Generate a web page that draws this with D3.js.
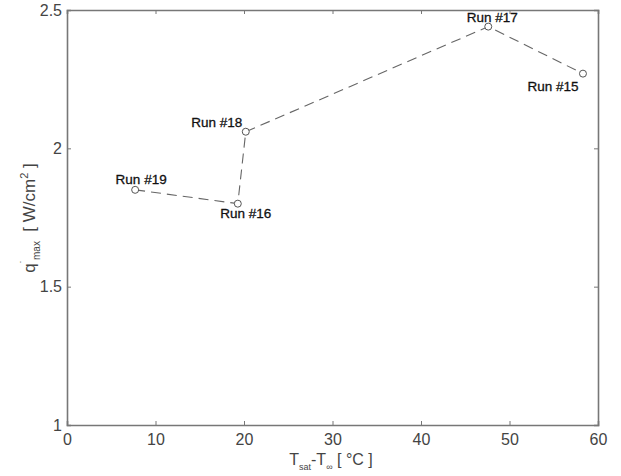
<!DOCTYPE html>
<html><head><meta charset="utf-8">
<script src="https://cdn.jsdelivr.net/npm/d3@7"></script>
<style>body{margin:0;background:#fff;} text{font-family:"Liberation Sans",Arial,sans-serif;}</style>
</head><body>
<svg id="c" width="621" height="476"></svg>
<script>
const runs = ["Run #19","Run #16","Run #18","Run #17","Run #15"];
const dT = [7.7, 19.3, 20.2, 47.6, 58.3];
const qmax = [1.85, 1.80, 2.06, 2.44, 2.27];
const xTicks = [0,10,20,30,40,50,60];
const yTicks = [1,1.5,2,2.5];
const labelOffsets = [[6,-6],[8,14],[-29,-5],[4,-5],[-30,17]];

const svg = d3.select("#c");
const m = {l:67, r:23, t:10, b:51};
const W = 621 - m.l - m.r, H = 476 - m.t - m.b;
const x = d3.scaleLinear().domain([0,60]).range([m.l, m.l+W]);
const y = d3.scaleLinear().domain([1,2.5]).range([m.t+H, m.t]);
const axCol = "#777";

const gx = svg.append("g").attr("transform",`translate(0,${m.t+H})`)
  .call(d3.axisBottom(x).tickValues(xTicks).tickSize(-4).tickPadding(9).tickFormat(d3.format("d")));
const gxt = svg.append("g").attr("transform",`translate(0,${m.t})`)
  .call(d3.axisTop(x).tickValues(xTicks).tickSize(-4).tickFormat(""));
const gy = svg.append("g").attr("transform",`translate(${m.l},0)`)
  .call(d3.axisLeft(y).tickValues(yTicks).tickSize(-4).tickPadding(5).tickFormat(d => d===1||d===2 ? d3.format("d")(d) : d3.format(".1f")(d)));
const gyr = svg.append("g").attr("transform",`translate(${m.l+W},0)`)
  .call(d3.axisRight(y).tickValues(yTicks).tickSize(-4).tickFormat(""));
[gx,gxt,gy,gyr].forEach(g=>{
  g.select(".domain").attr("stroke",axCol).attr("stroke-width",1.6);
  g.selectAll(".tick line").attr("stroke",axCol);
  g.selectAll(".tick text").attr("fill","#444").style("font-size","16px").style("font-family","'Liberation Sans',Arial,sans-serif");
});

const pts = dT.map((d,i)=>({x:d,y:qmax[i],name:runs[i]}));
svg.append("path").datum(pts)
  .attr("d", d3.line().x(d=>x(d.x)).y(d=>y(d.y)))
  .attr("fill","none").attr("stroke","#666").attr("stroke-width",1.1)
  .attr("stroke-dasharray","10,6");
svg.selectAll("circle.pt").data(pts).join("circle").attr("class","pt")
  .attr("cx",d=>x(d.x)).attr("cy",d=>y(d.y)).attr("r",3.5)
  .attr("fill","#fff").attr("stroke","#555").attr("stroke-width",1);
svg.selectAll("text.lab").data(pts).join("text").attr("class","lab")
  .attr("x",(d,i)=>x(d.x)+labelOffsets[i][0]).attr("y",(d,i)=>y(d.y)+labelOffsets[i][1])
  .attr("text-anchor","middle").attr("fill","#111").style("font-size","13.5px")
  .style("stroke","#111").style("stroke-width","0.3px")
  .text(d=>d.name);

// x label
const xl = svg.append("text").attr("x", 331).attr("y", 465).attr("text-anchor","middle")
  .attr("fill","#444").style("font-size","16px");
xl.append("tspan").text("T");
xl.append("tspan").attr("dy",5).style("font-size","9px").text("sat");
xl.append("tspan").attr("dy",-5).text("-T");
xl.append("tspan").attr("dy",5).style("font-size","9px").text("∞");
xl.append("tspan").attr("dy",-5).text(" [ °C ]");

// y label
const yl = svg.append("text").attr("transform","translate(35,218) rotate(-90)")
  .attr("text-anchor","middle").attr("fill","#444").style("font-size","17px");
yl.append("tspan").text("q");
yl.append("tspan").attr("dy",-7).style("font-size","10px").text("\u02D9");
yl.append("tspan").attr("dy",12).style("font-size","10px").text("max");
yl.append("tspan").attr("dy",-5).text("\u00A0\u00A0[ W/cm");
yl.append("tspan").attr("dy",-7).style("font-size","11px").text("2");
yl.append("tspan").attr("dy",7).text(" ]");
</script>
</body></html>
